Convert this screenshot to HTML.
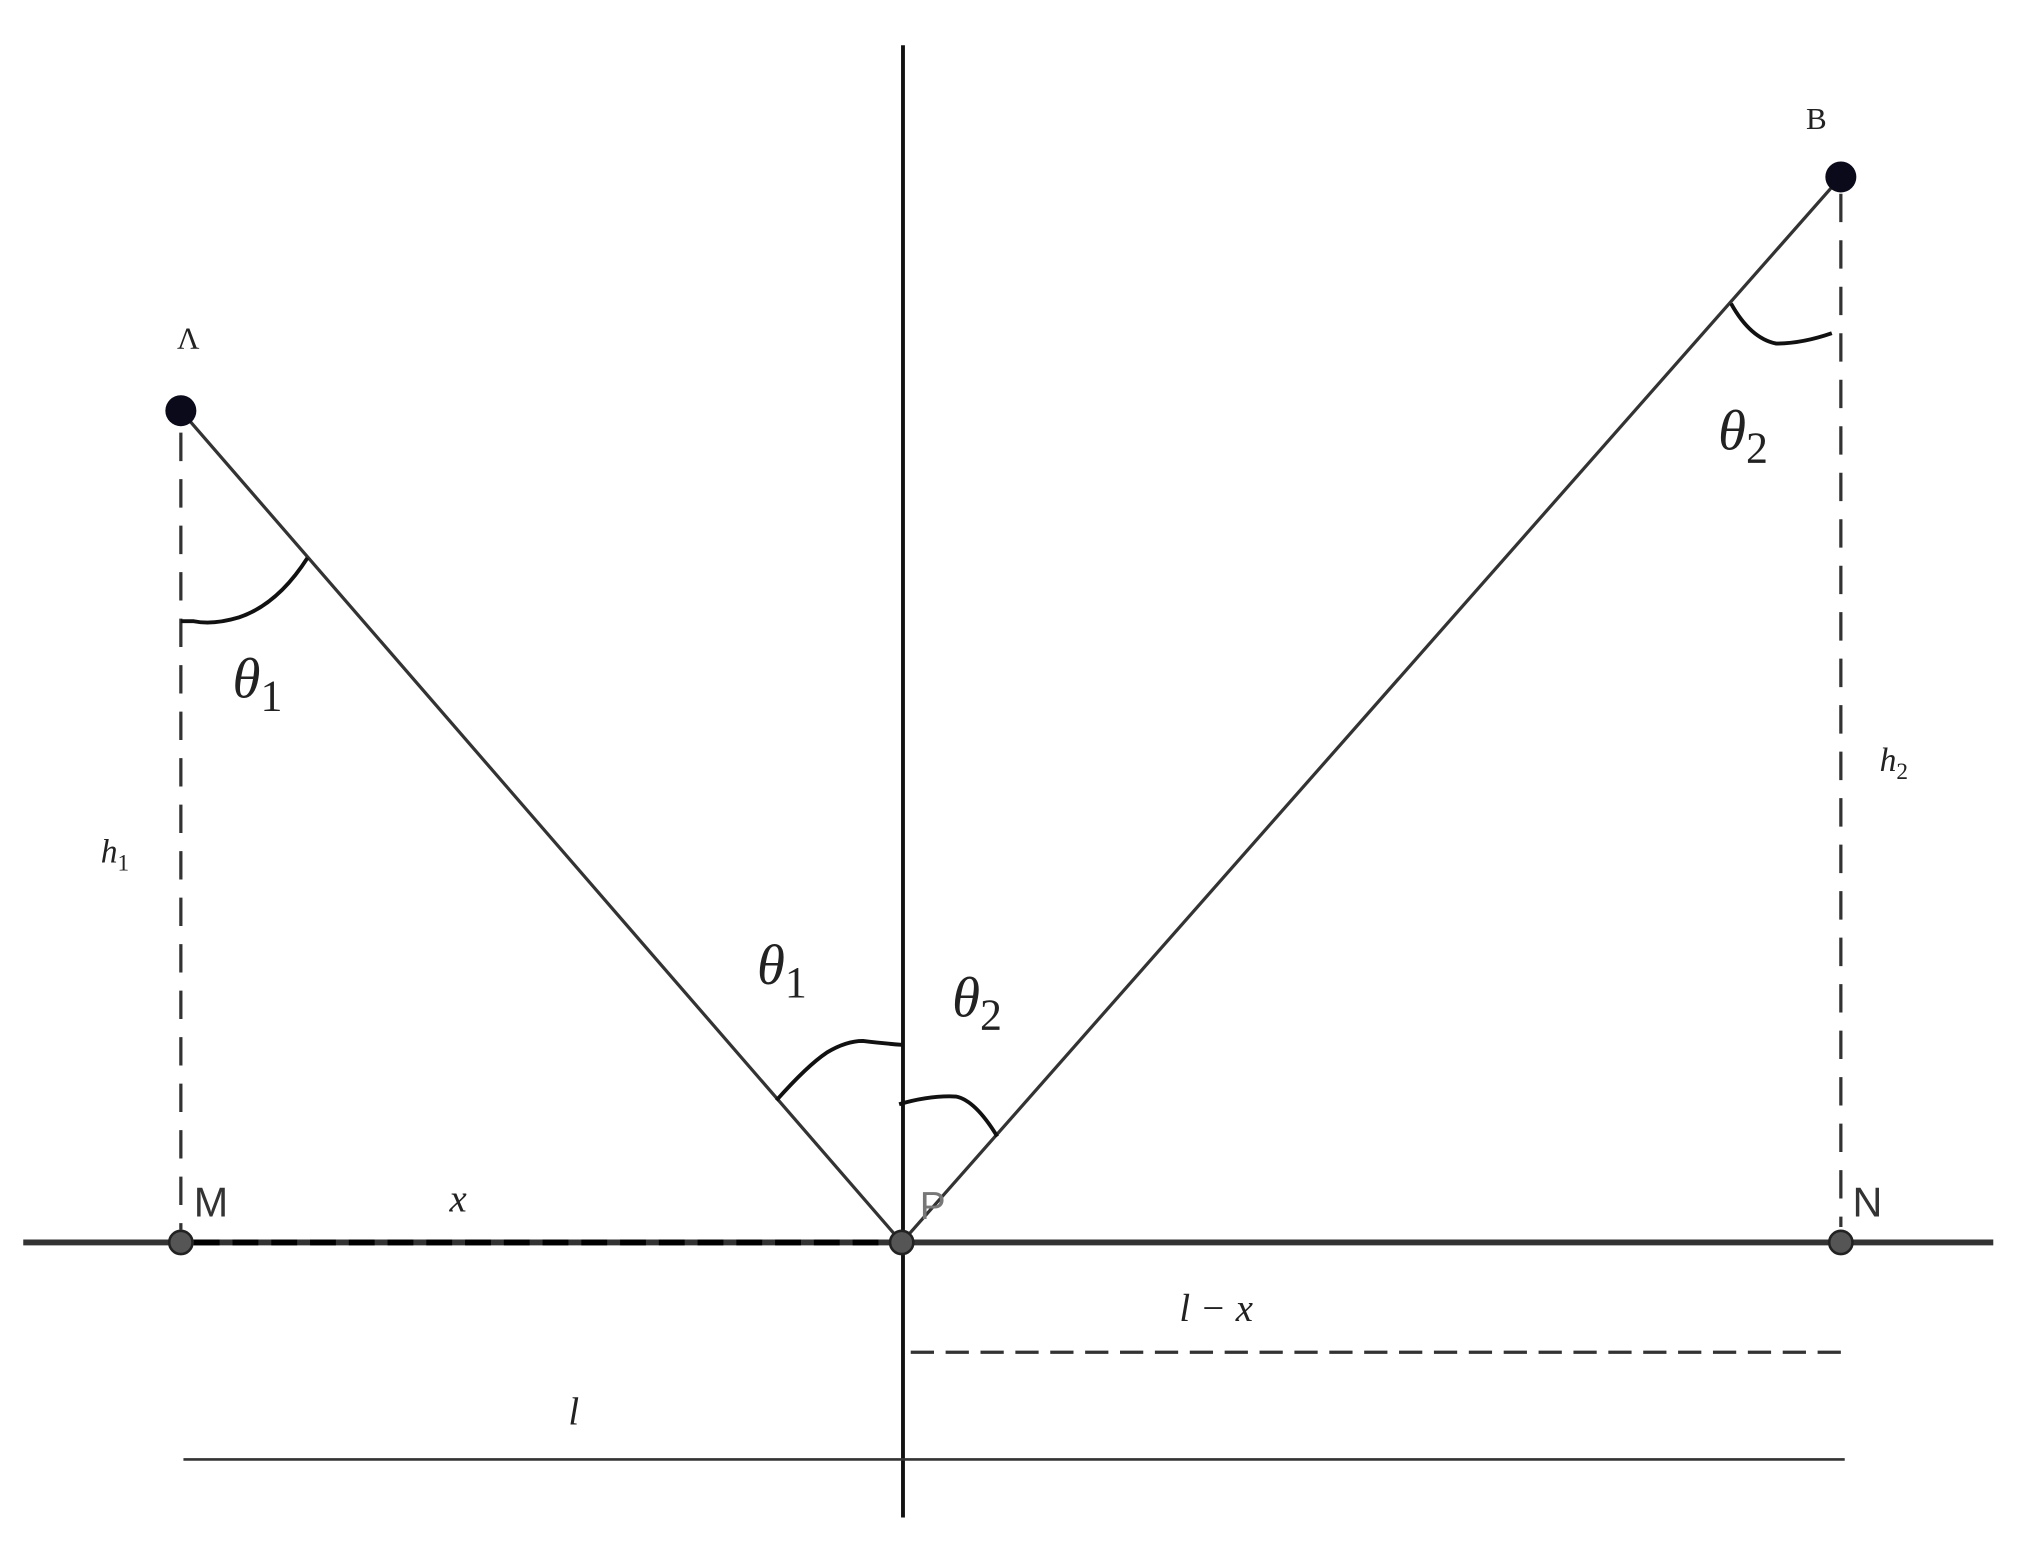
<!DOCTYPE html>
<html><head><meta charset="utf-8"><style>
html,body{margin:0;padding:0;background:#fff;}
svg{display:block;}
.serif{font-family:"Liberation Serif",serif;font-style:italic;fill:#222;}
.sans{font-family:"Liberation Sans",sans-serif;fill:#333;}
</style></head><body>
<svg width="2023" height="1555" viewBox="0 0 1566 1204" preserveAspectRatio="none" xmlns="http://www.w3.org/2000/svg">
<rect width="1566" height="1204" fill="#fff"/>
<line x1="699" y1="35" x2="699" y2="1175" stroke="#111" stroke-width="3"/>
<line x1="18" y1="962" x2="1543" y2="962" stroke="#333" stroke-width="4.5"/>
<line x1="150" y1="962" x2="690" y2="962" stroke="#000" stroke-width="4.5" stroke-dasharray="20,10"/>
<line x1="140" y1="318" x2="698" y2="962" stroke="#333" stroke-width="2.5"/>
<line x1="1425" y1="137" x2="698" y2="962" stroke="#333" stroke-width="2.5"/>
<line x1="140" y1="335" x2="140" y2="952" stroke="#333" stroke-width="2.5" stroke-dasharray="22,14"/>
<line x1="1425" y1="150" x2="1425" y2="950" stroke="#333" stroke-width="2.5" stroke-dasharray="22,14"/>
<line x1="705" y1="1047" x2="1430" y2="1047" stroke="#333" stroke-width="2.5" stroke-dasharray="18,9"/>
<line x1="142" y1="1130" x2="1428" y2="1130" stroke="#333" stroke-width="2"/>
<path d="M140,481 L150,481 Q165,484 185,478 Q215,468 238,432" fill="none" stroke="#111" stroke-width="3"/>
<path d="M1340,235 Q1355,262 1375,266 Q1395,266 1418,258" fill="none" stroke="#111" stroke-width="3"/>
<path d="M601,852 Q625,825 640,815 Q655,806 668,806 Q685,808 698,809" fill="none" stroke="#111" stroke-width="3"/>
<path d="M696,855 Q720,848 740,849 Q755,852 772,880" fill="none" stroke="#111" stroke-width="3"/>
<circle cx="140" cy="318" r="12" fill="#0a0a1a"/>
<circle cx="1425" cy="137" r="12" fill="#0a0a1a"/>
<circle cx="140" cy="962" r="9" fill="#555" stroke="#222" stroke-width="2"/>
<circle cx="698" cy="962" r="9" fill="#555" stroke="#222" stroke-width="2"/>
<circle cx="1425" cy="962" r="9" fill="#555" stroke="#222" stroke-width="2"/>
<text x="137" y="270" class="serif" font-size="24" style="font-style:normal">Λ</text>
<text x="1398" y="100" class="serif" font-size="24" style="font-style:normal">B</text>
<text x="180" y="540" class="serif" font-size="44">θ<tspan font-size="34" dy="10" style="font-style:normal">1</tspan></text>
<text x="586" y="762" class="serif" font-size="44">θ<tspan font-size="34" dy="10" style="font-style:normal">1</tspan></text>
<text x="737" y="787" class="serif" font-size="44">θ<tspan font-size="34" dy="10" style="font-style:normal">2</tspan></text>
<text x="1330" y="348" class="serif" font-size="44">θ<tspan font-size="34" dy="10" style="font-style:normal">2</tspan></text>
<text x="78" y="668" class="serif" font-size="26">h<tspan font-size="18" dy="6" style="font-style:normal">1</tspan></text>
<text x="1455" y="597" class="serif" font-size="26">h<tspan font-size="18" dy="6" style="font-style:normal">2</tspan></text>
<text x="150" y="942" class="sans" font-size="32">M</text>
<text x="712" y="944" class="sans" font-size="30" style="fill:#777">P</text>
<text x="1434" y="942" class="sans" font-size="32">N</text>
<text x="348" y="938" class="serif" font-size="30">x</text>
<text x="913" y="1023" class="serif" font-size="30">l − x</text>
<text x="440" y="1103" class="serif" font-size="30">l</text>
</svg>
</body></html>
